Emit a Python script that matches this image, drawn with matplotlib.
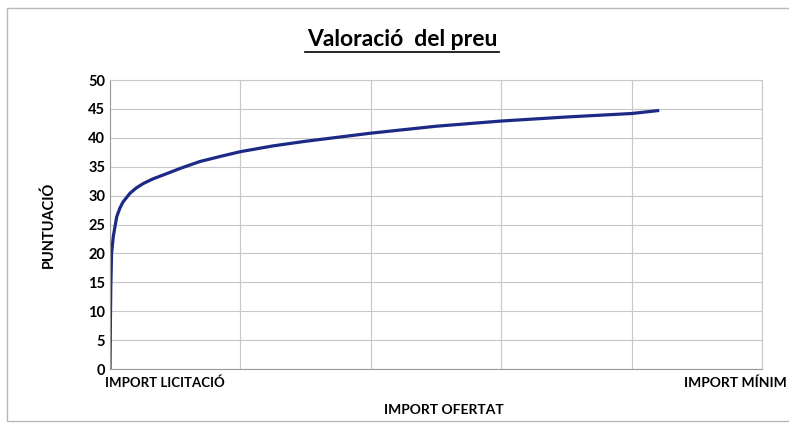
import numpy as np
import matplotlib.pyplot as plt
from matplotlib.patches import Rectangle

# offered amount on an abstract scale (0 = licitació), score
import_ofertat = [0, 0.003, 0.006, 0.012, 0.025, 0.051, 0.075, 0.10, 0.153, 0.2, 0.256,
                  0.33, 0.435, 0.55, 0.69, 0.85, 1.0, 1.25, 1.5, 2.0, 2.5, 3.0, 3.5, 4.0, 4.2]
puntuacio = [0, 8, 14, 20, 22.9, 26.3, 27.8, 28.9, 30.4, 31.3, 32.1,
             32.9, 33.8, 34.8, 35.9, 36.8, 37.6, 38.6, 39.4, 40.8, 42.0, 42.9, 43.6, 44.2, 44.7]

x_max = 5
y_ticks = list(range(0, 51, 5))

plt.rcParams['font.family'] = ['Lato', 'DejaVu Sans']

fig = plt.figure(figsize=(7.89, 4.23), dpi=100)
ax = fig.add_axes([110/789, 1 - 369/423, (762 - 110)/789, (369 - 80)/423])

# frame around the whole chart
fig.patches.append(Rectangle((7/789, 0.005), 0.995, 1 - 8/423 - 0.005, transform=fig.transFigure,
                             fill=False, edgecolor='#b8b8b8', linewidth=1))

ax.plot(import_ofertat, puntuacio, color='#1c2a86', linewidth=2.3)

ax.set_xlim(0, x_max)
ax.set_ylim(0, 50)
ax.set_yticks(y_ticks)
ax.set_xticks(range(0, x_max + 1))
ax.set_xticklabels([])
ax.tick_params(length=0, labelsize=10.5)
for lbl in ax.get_yticklabels():
    lbl.set_fontweight('bold')
ax.grid(True, color='#c8c8c8', linewidth=0.8)
ax.set_axisbelow(True)
for side in ['top', 'right']:
    ax.spines[side].set_color('#c8c8c8')
for side in ['left', 'bottom']:
    ax.spines[side].set_color('#9a9a9a')

ax.set_ylabel('PUNTUACIÓ', fontsize=10.5, fontweight='bold')
ax.yaxis.set_label_coords(-0.083, 0.5)
ax.set_xlabel('IMPORT OFERTAT', fontsize=10, fontweight='bold')
ax.xaxis.set_label_coords((444 - 110) / (762 - 110), -0.12)
ax.text(-0.008, -0.025, 'IMPORT LICITACIÓ', transform=ax.transAxes, ha='left', va='top',
        fontsize=9.5, fontweight='bold')
fig.text(787/789, 1 - 383/423, 'IMPORT MÍNIM', ha='right', va='center',
         fontsize=10, fontweight='bold')

fig.text(402/789, 1 - 40/423, 'Valoració  del preu', ha='center', va='center',
         fontsize=16.5, fontweight='bold')
# underline of the title
fig.add_artist(plt.Line2D([305/789, 499/789], [1 - 52/423, 1 - 52/423], color='black', linewidth=1.2))

fig.savefig('out.png', dpi=100)
